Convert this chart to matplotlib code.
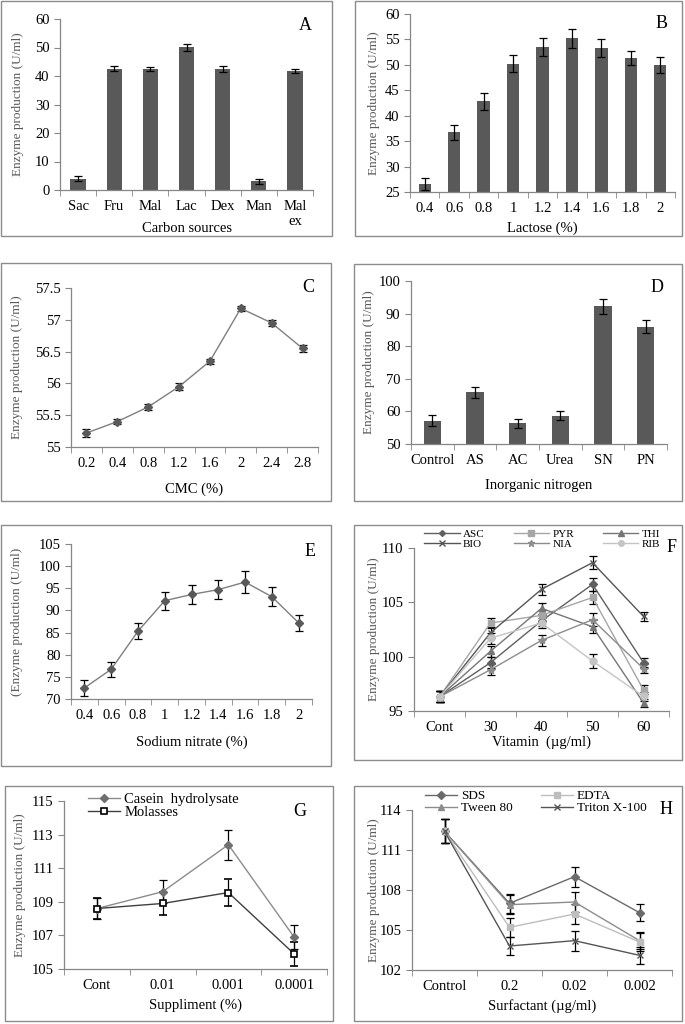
import matplotlib
matplotlib.use('Agg')
import matplotlib.pyplot as plt
from matplotlib.patches import Rectangle
from matplotlib.lines import Line2D

plt.rcParams['font.family'] = ['Liberation Serif', 'DejaVu Serif']
plt.rcParams['font.size'] = 10

W, H = 685, 1024

# ---- A: carbon sources ----
carbon_labels = ['Sac', 'Fru', 'Mal', 'Lac', 'Dex', 'Man', 'Mal\nex']
carbon_vals = [4.0, 42.5, 42.5, 50.1, 42.5, 3.0, 41.7]
carbon_err = [0.8, 0.9, 0.8, 1.3, 1.0, 1.0, 0.7]

# ---- B: lactose ----
lactose_labels = ['0.4', '0.6', '0.8', '1', '1.2', '1.4', '1.6', '1.8', '2']
lactose_vals = [26.5, 36.7, 42.8, 50.2, 53.5, 55.2, 53.3, 51.3, 50.0]
lactose_err = [1.2, 1.5, 1.7, 1.7, 1.7, 1.8, 1.7, 1.4, 1.6]

# ---- C: CMC ----
cmc_labels = ['0.2', '0.4', '0.8', '1.2', '1.6', '2', '2.4', '2.8']
cmc_vals = [55.22, 55.40, 55.63, 55.95, 56.35, 57.18, 56.95, 56.55]
cmc_err = [0.06, 0.04, 0.05, 0.05, 0.04, 0.04, 0.05, 0.05]

# ---- D: inorganic nitrogen ----
nitrogen_labels = ['Control', 'AS', 'AC', 'Urea', 'SN', 'PN']
nitrogen_vals = [57.2, 65.8, 56.4, 58.7, 92.2, 86.0]
nitrogen_err = [1.7, 1.8, 1.4, 1.4, 2.3, 2.0]

# ---- E: sodium nitrate ----
nitrate_labels = ['0.4', '0.6', '0.8', '1', '1.2', '1.4', '1.6', '1.8', '2']
nitrate_vals = [72.5, 76.7, 85.3, 92.2, 93.6, 94.7, 96.4, 93.1, 87.2]
nitrate_err = [1.8, 1.7, 1.8, 2.0, 2.2, 2.1, 2.4, 2.2, 1.8]

# ---- F: vitamins ----
vitamin_labels = ['Cont', '30', '40', '50', '60']
vit_asc = [96.3, 99.45, 103.3, 106.65, 99.45]
vit_pyr = [96.3, 103.1, 103.8, 105.45, 96.95]
vit_thi = [96.3, 100.5, 104.45, 102.75, 95.75]
vit_bio = [96.3, 102.2, 106.2, 108.65, 103.7]
vit_nia = [96.3, 98.8, 101.5, 103.4, 98.9]
vit_rib = [96.3, 101.7, 103.1, 99.6, 96.35]
vit_err = [0.5, 0.5, 0.5, 0.6, 0.4]

# ---- G: supplements ----
supp_labels = ['Cont', '0.01', '0.001', '0.0001']
supp_casein = [108.6, 109.6, 112.4, 106.9]
supp_casein_err = [0.6, 0.7, 0.9, 0.7]
supp_molasses = [108.6, 108.9, 109.55, 105.9]
supp_molasses_err = [0.6, 0.7, 0.8, 0.7]

# ---- H: surfactants ----
surf_labels = ['Control', '0.2', '0.02', '0.002']
surf_sds = [112.4, 107.0, 109.0, 106.3]
surf_edta = [112.4, 105.2, 106.2, 104.1]
surf_tween = [112.4, 106.9, 107.1, 104.2]
surf_triton = [112.4, 103.8, 104.2, 103.1]
surf_err = [0.9, 0.7, 0.75, 0.65]

BAR = '#595959'
AXIS = '#868686'
YLAB = '#595959'


def axes_px(fig, left, top, right, bottom):
    return fig.add_axes([left / W, 1 - bottom / H, (right - left) / W, (bottom - top) / H])


def frame(fig, left, top, right, bottom):
    fig.patches.append(Rectangle((left / W, 1 - bottom / H), (right - left) / W, (bottom - top) / H,
                                 transform=fig.transFigure, fill=False, edgecolor='#8c8c8c',
                                 linewidth=1.0, zorder=0))


def style(ax, labels, ylim, yticks, xlabel, ylabel, letter, letter_xy, xlab_y, ylab_x):
    n = len(labels)
    ax.set_xlim(-0.5, n - 0.5)
    ax.set_ylim(*ylim)
    ax.set_yticks(yticks)
    ax.set_xticks(range(n))
    ax.set_xticklabels(labels)
    ax.set_xticks([i - 0.5 for i in range(n + 1)], minor=True)
    ax.tick_params(axis='x', which='major', length=0, pad=7, labelsize=10.5)
    ax.tick_params(axis='x', which='minor', length=4, color=AXIS, direction='out')
    ax.tick_params(axis='y', length=4, color=AXIS, direction='out', labelsize=10.5)
    for s in ('top', 'right'):
        ax.spines[s].set_visible(False)
    for s in ('left', 'bottom'):
        ax.spines[s].set_color(AXIS)
        ax.spines[s].set_linewidth(0.9)
    fig = ax.figure
    pos = ax.get_position()
    fig.text(ylab_x / W, (pos.y0 + pos.y1) / 2, ylabel, rotation=90, ha='center', va='center',
             fontsize=9.5, color=YLAB)
    fig.text((pos.x0 + pos.x1) / 2, 1 - xlab_y / H, xlabel, ha='center', va='center', fontsize=10.5)
    fig.text(letter_xy[0] / W, 1 - letter_xy[1] / H, letter, ha='center', va='center', fontsize=13)


def ebar(ax, vals, err, **kw):
    ax.errorbar(range(len(vals)), vals, yerr=err, ecolor='black', elinewidth=0.9,
                capsize=3, capthick=0.9, **kw)


def handle(mk, col, ms, mfc=None, mec=None, mew=1.0):
    return Line2D([], [], color=col, lw=1.0, marker=mk, ms=ms, mfc=mfc or col, mec=mec or col, mew=mew)


def put_legend(ax, handles, names, x, y, **kw):
    ax.legend(handles, names, loc='upper left', bbox_to_anchor=(x / W, 1 - y / H),
              bbox_transform=ax.figure.transFigure, frameon=False, labelspacing=0.0,
              handletextpad=0.3, borderpad=0, borderaxespad=0, **kw)


fig = plt.figure(figsize=(W / 100, H / 100), dpi=100)
ylabel = 'Enzyme production (U/ml)'

# A
frame(fig, 1, 1, 332, 236)
ax = axes_px(fig, 60, 19, 313, 190)
ax.bar(range(len(carbon_vals)), carbon_vals, width=0.42, color=BAR, zorder=2)
ebar(ax, carbon_vals, carbon_err, fmt='none', zorder=3)
style(ax, carbon_labels, (0, 60), range(0, 61, 10), 'Carbon sources', ylabel, 'A', (305, 25), 228, 18)

# B
frame(fig, 355, 1, 682, 236)
ax = axes_px(fig, 410, 14, 675, 192)
ax.bar(range(len(lactose_vals)), lactose_vals, width=0.42, color=BAR, zorder=2)
ebar(ax, lactose_vals, lactose_err, fmt='none', zorder=3)
style(ax, lactose_labels, (25, 60), range(25, 61, 5), 'Lactose (%)', ylabel, 'B', (662, 24), 228, 374)

# C
frame(fig, 1, 263, 331, 501)
ax = axes_px(fig, 71, 288, 318, 447)
ebar(ax, cmc_vals, cmc_err, color='#7f7f7f', lw=1.0, marker='D', ms=4, mfc='#595959', mec='#595959')
style(ax, cmc_labels, (55, 57.5), [55, 55.5, 56, 56.5, 57, 57.5], 'CMC (%)', ylabel, 'C', (308, 288), 489, 17)
ax.set_yticklabels(['55', '55.5', '56', '56.5', '57', '57.5'])

# D
frame(fig, 354, 264, 682, 501)
ax = axes_px(fig, 411, 281, 667, 444)
ax.bar(range(len(nitrogen_vals)), nitrogen_vals, width=0.4, color=BAR, zorder=2)
ebar(ax, nitrogen_vals, nitrogen_err, fmt='none', zorder=3)
style(ax, nitrogen_labels, (50, 100), range(50, 101, 10), 'Inorganic nitrogen', ylabel, 'D', (657, 288), 486, 369)

# E
frame(fig, 1, 525, 331, 766)
ax = axes_px(fig, 71, 544, 312, 699)
ebar(ax, nitrate_vals, nitrate_err, color='#7f7f7f', lw=1.0, marker='D', ms=4, mfc='#595959', mec='#595959')
style(ax, nitrate_labels, (70, 105), range(70, 106, 5), 'Sodium nitrate (%)', '(' + ylabel, 'E',
      (310, 552), 742, 17)

# F
frame(fig, 354, 525, 682, 760)
ax = axes_px(fig, 414, 548, 669, 711)
vit_series = [
    ('ASC', vit_asc, 'D', '#5f5f5f', 4),
    ('PYR', vit_pyr, 's', '#a6a6a6', 5),
    ('THI', vit_thi, '^', '#767676', 5),
    ('BIO', vit_bio, 'x', '#555555', 5),
    ('NIA', vit_nia, '*', '#8c8c8c', 6),
    ('RIB', vit_rib, 'o', '#c4c4c4', 5),
]
for name, vals, mk, col, ms in vit_series:
    ebar(ax, vals, vit_err, color=col, lw=1.0, marker=mk, ms=ms, mfc=col, mec=col)
style(ax, vitamin_labels, (95, 110), [95, 100, 105, 110], 'Vitamin  (µg/ml)', ylabel, 'F', (672, 547), 742, 374)
# legend fills row-wise in the reference: reorder for matplotlib's column-wise fill
order = [0, 3, 1, 4, 2, 5]
put_legend(ax, [handle(vit_series[i][2], vit_series[i][3], vit_series[i][4] - 1) for i in order],
           [vit_series[i][0] for i in order], 424, 529,
           ncol=3, fontsize=8, handlelength=3.2, columnspacing=2.6)

# G
frame(fig, 5, 786, 333, 1021)
ax = axes_px(fig, 64, 801, 327, 969)
ebar(ax, supp_casein, supp_casein_err, color='#8c8c8c', lw=1.0, marker='D', ms=4, mfc='#6f6f6f',
     mec='#6f6f6f')
ebar(ax, supp_molasses, supp_molasses_err, color='#3f3f3f', lw=1.0, marker='s', ms=5, mfc='white',
     mec='black', mew=1.2)
style(ax, supp_labels, (105, 115), range(105, 116, 2), 'Suppliment (%)', ylabel, 'G', (300, 811), 1005, 20)
put_legend(ax, [handle('D', '#8c8c8c', 4, '#6f6f6f', '#6f6f6f'),
                handle('s', '#3f3f3f', 5, 'white', 'black', 1.2)],
           ['Casein  hydrolysate', 'Molasses'], 88, 793, fontsize=10.5, handlelength=2.2)

# H
frame(fig, 354, 786, 682, 1021)
ax = axes_px(fig, 412, 810, 672, 970)
surf_series = [
    ('SDS', surf_sds, 'D', '#6a6a6a', 4),
    ('Tween 80', surf_tween, '^', '#8c8c8c', 5),
    ('EDTA', surf_edta, 's', '#bdbdbd', 5),
    ('Triton X-100', surf_triton, 'x', '#555555', 5),
]
for name, vals, mk, col, ms in surf_series:
    ebar(ax, vals, surf_err, color=col, lw=1.0, marker=mk, ms=ms, mfc=col, mec=col)
style(ax, surf_labels, (102, 114), [102, 105, 108, 111, 114], 'Surfactant (µg/ml)', ylabel, 'H',
      (666, 810), 1006, 374)
put_legend(ax, [handle(s[2], s[3], s[4]) for s in surf_series], [s[0] for s in surf_series], 425, 790,
           ncol=2, fontsize=9.5, handlelength=2.4, columnspacing=2.2)

fig.savefig('out.png', dpi=100)
